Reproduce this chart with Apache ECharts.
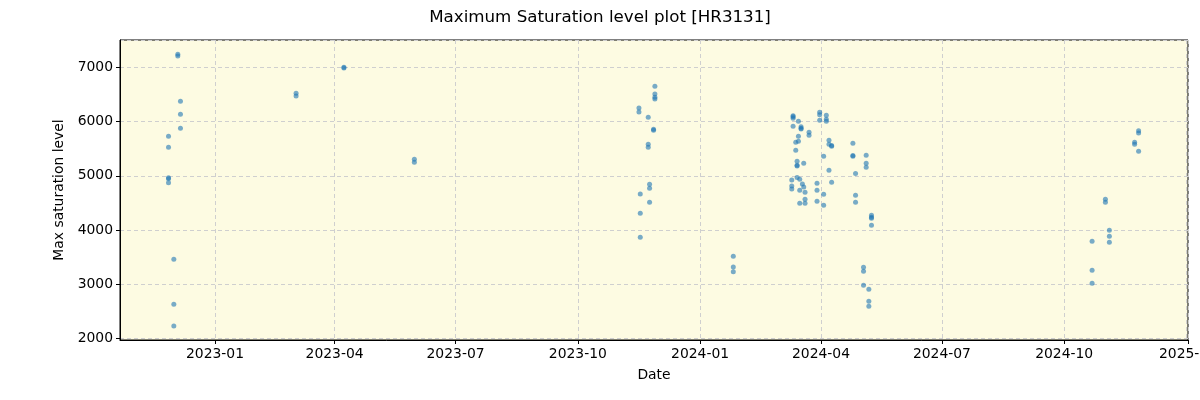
<!DOCTYPE html>
<html>
<head>
<meta charset="utf-8">
<script src="https://cdn.jsdelivr.net/npm/echarts@6/dist/echarts.min.js"></script>
<style>html,body{margin:0;padding:0;background:#fff;}#c{width:1200px;height:400px;}</style>
</head>
<body>
<div id="c"></div>
<script>
const dates = [
 '2022-11-27','2022-11-27','2022-11-27','2022-11-27','2022-11-27',
 '2022-12-01','2022-12-01','2022-12-01',
 '2022-12-04','2022-12-04',
 '2022-12-06','2022-12-06','2022-12-06',
 '2023-03-03','2023-03-03',
 '2023-04-08','2023-04-08',
 '2023-05-31','2023-05-31',
 '2023-11-16','2023-11-16',
 '2023-11-17','2023-11-17','2023-11-17',
 '2023-11-23','2023-11-23','2023-11-23',
 '2023-11-24','2023-11-24','2023-11-24',
 '2023-11-27','2023-11-27',
 '2023-11-28','2023-11-28','2023-11-28','2023-11-28',
 '2024-01-26','2024-01-26','2024-01-26',
 '2024-03-10','2024-03-10','2024-03-10',
 '2024-03-11','2024-03-11','2024-03-11','2024-03-11',
 '2024-03-13','2024-03-13',
 '2024-03-14','2024-03-14','2024-03-14','2024-03-14',
 '2024-03-15','2024-03-15','2024-03-15',
 '2024-03-16','2024-03-16','2024-03-16',
 '2024-03-17','2024-03-17','2024-03-17',
 '2024-03-18',
 '2024-03-19','2024-03-19',
 '2024-03-20','2024-03-20','2024-03-20',
 '2024-03-23','2024-03-23',
 '2024-03-29','2024-03-29','2024-03-29',
 '2024-03-31','2024-03-31','2024-03-31',
 '2024-04-03','2024-04-03','2024-04-03',
 '2024-04-05','2024-04-05','2024-04-05',
 '2024-04-07','2024-04-07','2024-04-07',
 '2024-04-09','2024-04-09','2024-04-09',
 '2024-04-25','2024-04-25','2024-04-25',
 '2024-04-27','2024-04-27','2024-04-27',
 '2024-05-03','2024-05-03','2024-05-03',
 '2024-05-05','2024-05-05','2024-05-05',
 '2024-05-07','2024-05-07','2024-05-07',
 '2024-05-09','2024-05-09','2024-05-09','2024-05-09',
 '2024-10-22','2024-10-22','2024-10-22',
 '2024-11-01','2024-11-01',
 '2024-11-04','2024-11-04','2024-11-04',
 '2024-11-23','2024-11-23',
 '2024-11-26','2024-11-26','2024-11-26'
];
const levels = [
 5731,5528,4967,4945,4875,
 3461,2631,2231,
 7245,7210,
 6376,6137,5878,
 6524,6474,
 7005,6990,
 5306,5251,
 6253,6179,
 4666,4310,3867,
 6081,5583,5528,
 4845,4771,4513,
 5860,5840,
 6653,6511,6450,6420,
 3517,3319,3229,
 4924,4815,4760,
 6111,6090,6063,5915,
 5620,5472,
 5269,5196,5183,4970,
 6007,5731,5638,
 4937,4734,4494,
 5908,5880,5865,
 4852,
 4797,5232,
 4697,4568,4494,
 5804,5749,
 4864,4734,4531,
 6173,6129,6026,
 5362,4661,4458,
 6118,6044,6007,
 5657,5583,5103,
 5560,5545,4882,
 5601,5375,5360,
 5046,4642,4513,
 3314,3240,2982,
 5380,5232,5159,
 2908,2686,2594,
 4273,4235,4220,4089,
 3793,3258,3018,
 4568,4513,
 3996,3886,3775,
 5620,5583,
 5834,5793,5454
];
const xRange = ['2022-10-21T12:00:00Z', '2025-01-02T04:00:00Z'];
const yRange = [1972, 7507];
const titleText = 'Maximum Saturation level plot [HR3131]';
const xName = 'Date';
const yName = 'Max saturation level';

const points = dates.map((d, i) => [d + 'T00:00:00Z', levels[i]]);
const font = 'DejaVu Sans';
const chart = echarts.init(document.getElementById('c'), null, {renderer: 'canvas'});
chart.setOption({
  useUTC: true,
  animation: false,
  title: {
    text: titleText, left: 'center', top: 4,
    textStyle: {fontFamily: font, fontSize: 16.7, fontWeight: 'normal', color: '#000'}
  },
  grid: {
    left: 120, right: 12, top: 40, bottom: 60, show: true,
    outerBoundsMode: 'none', containLabel: false,
    backgroundColor: '#fdfbe2', borderColor: '#000', borderWidth: 1
  },
  xAxis: {
    type: 'time',
    min: new Date(xRange[0]).getTime(), max: new Date(xRange[1]).getTime(),
    splitNumber: 7,
    name: xName, nameLocation: 'middle', nameGap: 28,
    nameTextStyle: {fontFamily: font, fontSize: 13.9, color: '#000'},
    axisLine: {show: true, onZero: false, lineStyle: {color: '#000', width: 1}},
    axisTick: {show: true, length: 4, lineStyle: {color: '#000'}},
    axisLabel: {
      fontFamily: font, fontSize: 13.9, color: '#000', margin: 7,
      showMinLabel: false, showMaxLabel: true, hideOverlap: false,
      formatter: function (v) {
        const d = new Date(v);
        return d.getUTCFullYear() + '-' + String(d.getUTCMonth() + 1).padStart(2, '0');
      }
    },
    splitLine: {show: true, lineStyle: {color: '#cfcfcf', type: [4, 3], width: 1}},
    minorTick: {show: false}
  },
  yAxis: {
    type: 'value', min: yRange[0], max: yRange[1],
    name: yName, nameLocation: 'middle', nameGap: 47,
    nameTextStyle: {fontFamily: font, fontSize: 13.9, color: '#000'},
    axisLine: {show: true, lineStyle: {color: '#000', width: 1}},
    axisTick: {show: true, length: 4, lineStyle: {color: '#000'}},
    axisLabel: {fontFamily: font, fontSize: 13.9, color: '#000', margin: 7,
      showMinLabel: false, showMaxLabel: false,
      formatter: function (v) { return String(Math.round(v)); }},
    splitLine: {show: true, lineStyle: {color: '#cfcfcf', type: [4, 3], width: 1}}
  },
  series: [{
    type: 'scatter',
    data: points,
    symbolSize: 5,
    itemStyle: {color: '#1f77b4', opacity: 0.6}
  }]
});
</script>
</body>
</html>
